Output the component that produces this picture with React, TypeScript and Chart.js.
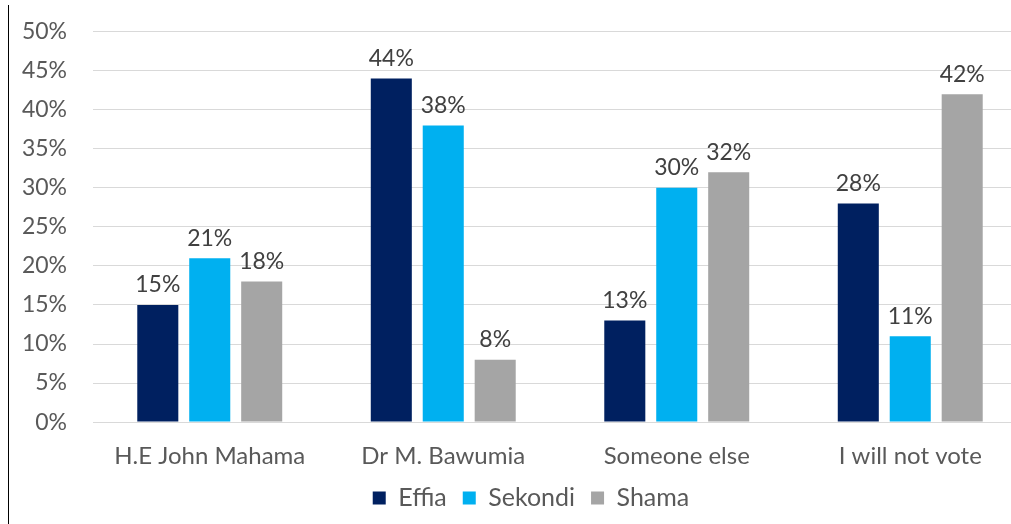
import React, { useEffect, useRef } from "react";
import { Chart, registerables } from "chart.js";

Chart.register(...registerables);

const categories = ["H.E John Mahama", "Dr M. Bawumia", "Someone else", "I will not vote"];
const effia = [15, 44, 13, 28];
const sekondi = [21, 38, 30, 11];
const shama = [18, 8, 32, 42];
const seriesNames = ["Effia", "Sekondi", "Shama"];
const seriesColors = ["#002060", "#00B0F0", "#A5A5A5"];

const FONT = "Lato, 'Open Sans', sans-serif";

const dataLabels = {
  id: "dataLabels",
  afterDatasetsDraw(chart: any) {
    const ctx = chart.ctx;
    ctx.save();
    ctx.font = `23px ${FONT}`;
    ctx.fillStyle = "#404040";
    ctx.textAlign = "center";
    ctx.textBaseline = "alphabetic";
    chart.data.datasets.forEach((ds: any, i: number) => {
      const meta = chart.getDatasetMeta(i);
      meta.data.forEach((bar: any, j: number) => {
        ctx.fillText(ds.data[j] + "%", bar.x, bar.y - 12.5);
      });
    });
    ctx.restore();
  },
};

export default function App() {
  const ref = useRef<HTMLCanvasElement>(null);
  useEffect(() => {
    if (!ref.current) return;
    const values = [effia, sekondi, shama];
    const chart = new Chart(ref.current, {
      type: "bar",
      data: {
        labels: categories,
        datasets: values.map((v, i) => ({
          label: seriesNames[i],
          data: v,
          backgroundColor: seriesColors[i],
          borderWidth: 0,
          categoryPercentage: 0.6675,
          barPercentage: 0.79,
        })),
      },
      options: {
        responsive: false,
        animation: false,
        devicePixelRatio: 1,
        layout: { padding: { left: 0, right: 0, top: 31.7, bottom: 3.5 } },
        plugins: {
          tooltip: { enabled: false },
          legend: {
            position: "bottom",
            labels: {
              boxWidth: 13,
              boxHeight: 13,
              padding: 16,
              color: "#595959",
              font: { family: FONT, size: 25 },
            },
          },
        },
        scales: {
          x: {
            afterFit: (s: any) => {
              s.height = 47.4;
            },
            grid: { display: false, drawTicks: false },
            border: { display: false },
            ticks: {
              color: "#595959",
              font: { family: FONT, size: 24 },
              padding: 20,
              maxRotation: 0,
              autoSkip: false,
            },
          },
          y: {
            min: 0,
            max: 50,
            afterFit: (s: any) => {
              s.width = 93;
            },
            grid: {
              color: "#D9D9D9",
              lineWidth: 1,
              drawTicks: true,
              tickLength: 26,
              tickColor: "rgba(0,0,0,0)",
            },
            border: { display: false },
            ticks: {
              stepSize: 5,
              color: "#595959",
              font: { family: FONT, size: 23 },
              padding: 0,
              callback: (v: any) => v + "%",
            },
          },
          yRight: {
            type: "linear",
            position: "right",
            min: 0,
            max: 50,
            afterFit: (s: any) => {
              s.width = 35;
            },
            grid: { display: false, drawTicks: false },
            border: { display: false },
            ticks: { display: true, padding: 0, callback: () => "" },
          },
        },
      },
      plugins: [dataLabels],
    });
    return () => chart.destroy();
  }, []);

  return (
    <div
      style={{
        position: "fixed",
        left: 0,
        top: 0,
        width: 1011,
        height: 524,
        overflow: "hidden",
        background: "#fff",
      }}
    >
      <canvas
        ref={ref}
        width={1062}
        height={524}
        style={{ position: "absolute", left: 0, top: 0, width: 1062, height: 524 }}
      />
      <div
        style={{
          position: "absolute",
          left: 8,
          top: 5,
          width: 1,
          height: 519,
          background: "#000",
        }}
      />
    </div>
  );
}
